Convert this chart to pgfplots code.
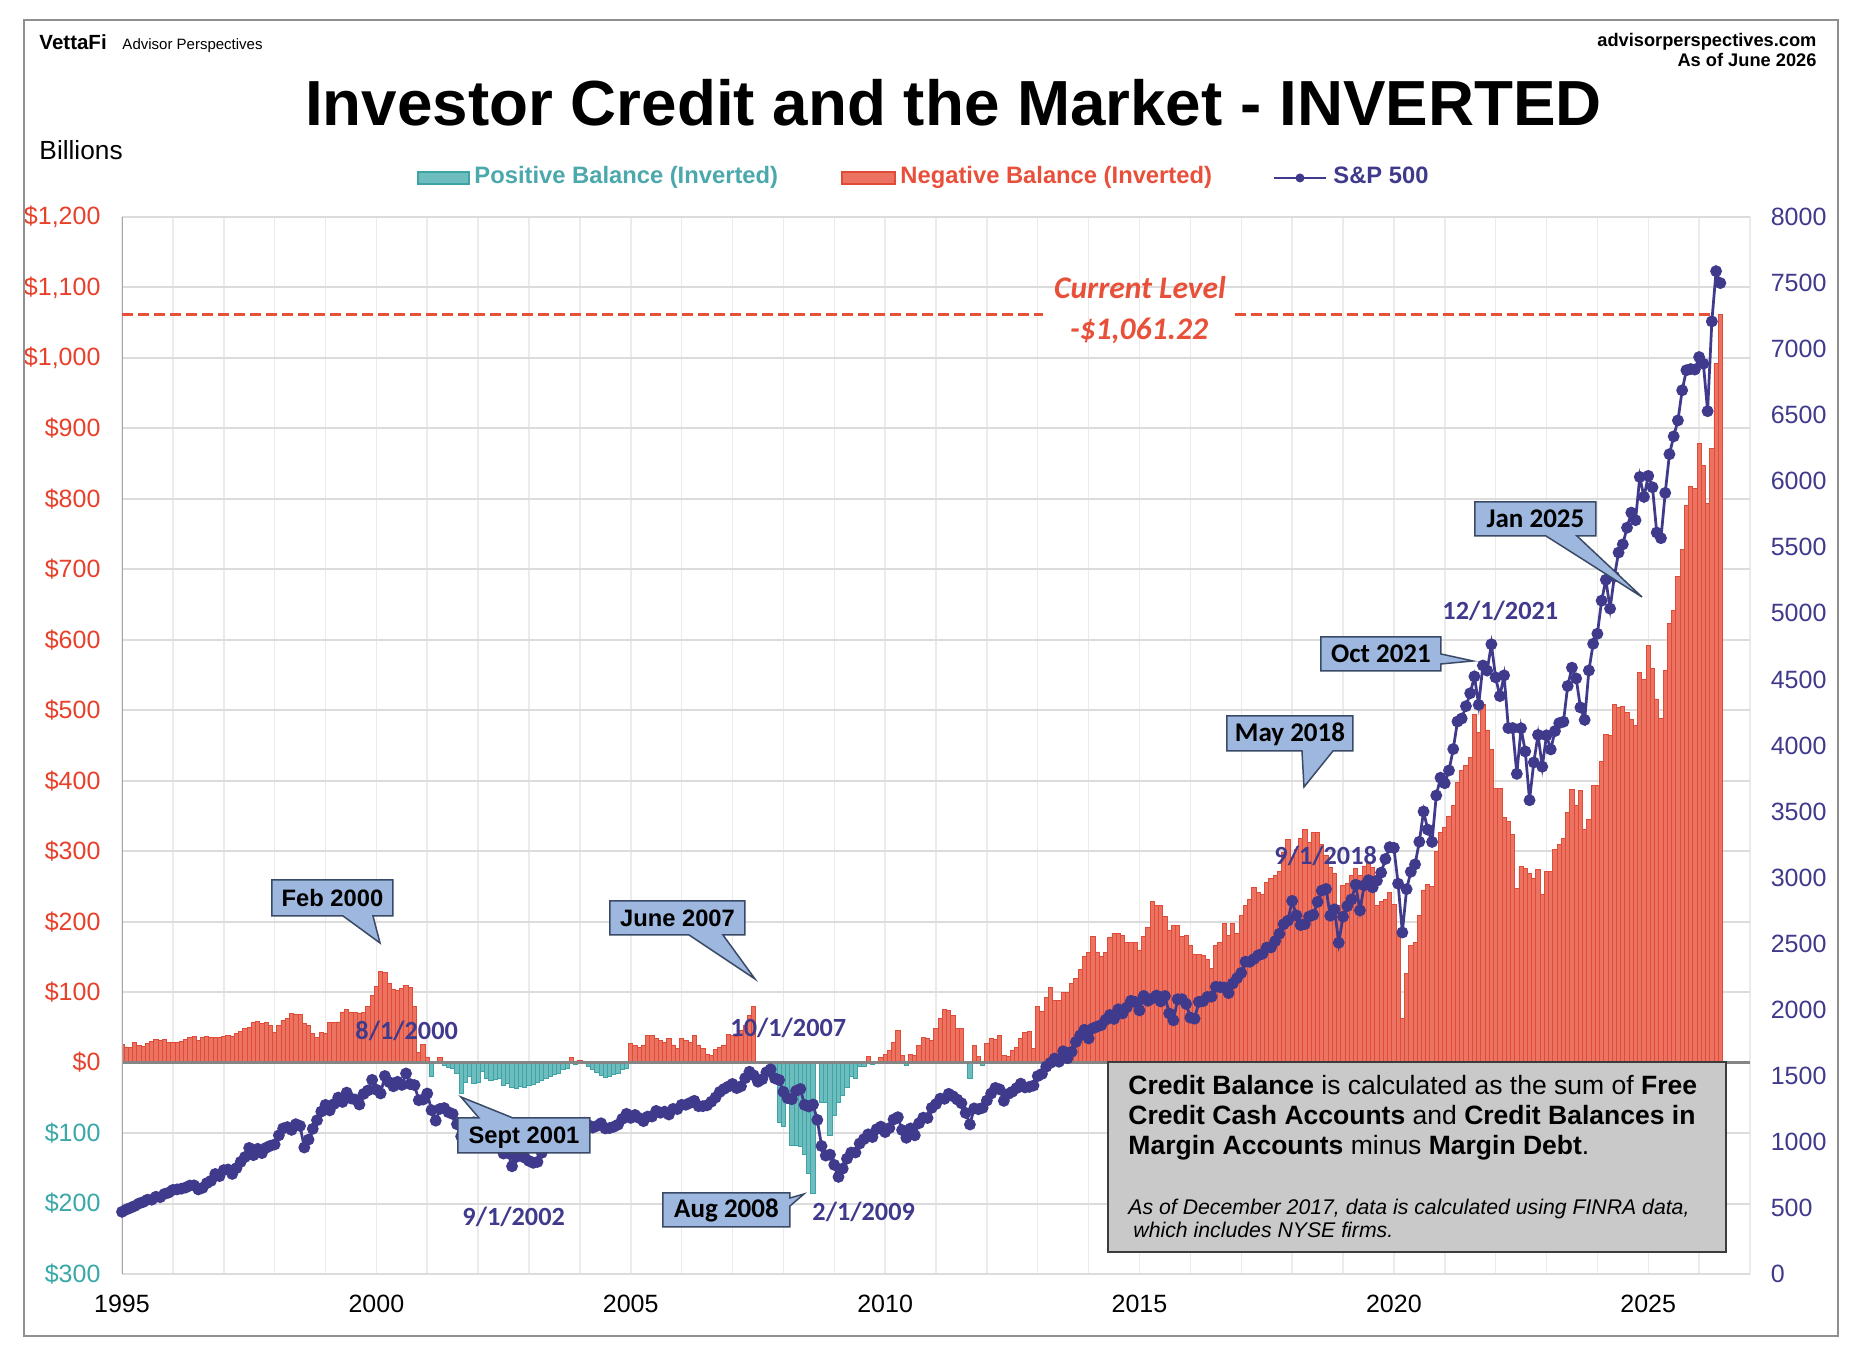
\documentclass[border=0pt]{standalone}
\usepackage{fontspec}
\setmainfont{Liberation Sans}
\newfontfamily\calibri{Carlito}
\usepackage{pgfplots}
\usepackage{pgfplotstable}
\pgfplotsset{compat=1.18}

\definecolor{barred}{HTML}{EC7361}
\definecolor{barredline}{HTML}{DE4C38}
\definecolor{barteal}{HTML}{6DBDBE}
\definecolor{bartealline}{HTML}{3EA3A5}
\definecolor{spx}{HTML}{403A8C}
\definecolor{labred}{HTML}{E8402A}
\definecolor{labteal}{HTML}{3AA7A8}
\definecolor{legteal}{HTML}{4BA8AC}
\definecolor{legred}{HTML}{E8503C}
\definecolor{callout}{HTML}{9DB7DF}
\definecolor{calloutline}{HTML}{3A4A66}
\definecolor{gridc}{HTML}{DCDCDC}
\definecolor{vgridc}{HTML}{EBEBEB}
\definecolor{boxgray}{HTML}{C9C9C9}
\definecolor{boxline}{HTML}{3C3C3C}
\definecolor{curred}{HTML}{E8503A}
\definecolor{framegray}{HTML}{8F8F8F}
\definecolor{zerogray}{HTML}{858585}
\definecolor{leftgray}{HTML}{A6A6A6}

\pgfplotstableread{
yr mo cb spx
1995 1 25.5 470.42
1995 2 22.2 487.39
1995 3 20.8 500.71
1995 4 27.9 514.71
1995 5 24.6 533.40
1995 6 23.2 544.75
1995 7 26.9 562.06
1995 8 30.2 561.88
1995 9 33.1 584.41
1995 10 31.6 581.50
1995 11 33.1 605.37
1995 12 27.9 615.93
1996 1 27.9 636.02
1996 2 27.9 640.43
1996 3 30.2 645.50
1996 4 33.1 654.17
1996 5 35.4 669.12
1996 6 37.3 670.63
1996 7 31.6 639.95
1996 8 35.0 651.99
1996 9 37.3 687.31
1996 10 35.0 705.27
1996 11 35.4 757.02
1996 12 35.4 740.74
1997 1 36.4 786.16
1997 2 38.7 790.82
1997 3 37.8 757.12
1997 4 41.1 801.34
1997 5 44.4 848.28
1997 6 48.2 885.14
1997 7 49.6 954.29
1997 8 56.7 899.47
1997 9 58.6 947.28
1997 10 55.2 914.62
1997 11 56.7 955.40
1997 12 52.9 970.43
1998 1 43.4 980.28
1998 2 52.9 1049.34
1998 3 60.0 1101.75
1998 4 62.3 1111.75
1998 5 69.4 1090.82
1998 6 68.0 1133.84
1998 7 68.0 1120.67
1998 8 55.2 957.28
1998 9 52.9 1017.01
1998 10 41.1 1098.67
1998 11 35.0 1163.63
1998 12 43.4 1229.23
1999 1 41.1 1279.64
1999 2 56.7 1238.33
1999 3 56.7 1286.37
1999 4 57.6 1335.18
1999 5 71.8 1301.84
1999 6 75.5 1372.71
1999 7 70.8 1328.72
1999 8 70.8 1320.41
1999 9 69.4 1282.71
1999 10 70.8 1362.93
1999 11 80.0 1388.91
1999 12 95.0 1469.25
2000 1 108 1394.46
2000 2 129 1366.42
2000 3 128 1498.58
2000 4 112 1452.43
2000 5 104 1420.60
2000 6 102 1454.60
2000 7 105 1430.83
2000 8 109 1517.68
2000 9 106 1436.51
2000 10 80 1429.40
2000 11 14 1314.95
2000 12 25.5 1320.28
2001 1 8 1366.01
2001 2 -19 1239.94
2001 3 0.5 1160.33
2001 4 6.6 1249.46
2001 5 -4.7 1255.82
2001 6 -7 1224.42
2001 7 -9 1211.23
2001 8 -15 1133.58
2001 9 -44 1040.94
2001 10 -28 1059.78
2001 11 -19 1139.45
2001 12 -30 1148.08
2002 1 -28 1130.20
2002 2 -13 1106.73
2002 3 -23 1147.39
2002 4 -26 1076.92
2002 5 -24 1067.14
2002 6 -22 989.82
2002 7 -33 911.62
2002 8 -30 916.07
2002 9 -35 815.28
2002 10 -36 885.76
2002 11 -34 936.31
2002 12 -35 879.82
2003 1 -33 855.70
2003 2 -31 841.15
2003 3 -28 848.18
2003 4 -25 916.92
2003 5 -22 963.59
2003 6 -20 974.50
2003 7 -17 990.31
2003 8 -15 1008.01
2003 9 -10 995.97
2003 10 -8 1050.71
2003 11 7 1058.20
2003 12 -3 1111.92
2004 1 3 1131.13
2004 2 0.5 1144.94
2004 3 -5 1126.21
2004 4 -10 1107.30
2004 5 -14 1120.68
2004 6 -18 1140.84
2004 7 -21 1101.72
2004 8 -20 1104.24
2004 9 -17 1114.58
2004 10 -16 1130.20
2004 11 -10 1173.82
2004 12 -8 1211.92
2005 1 27 1181.27
2005 2 24 1203.60
2005 3 22 1180.59
2005 4 25 1156.85
2005 5 39 1191.50
2005 6 38 1191.33
2005 7 34 1234.18
2005 8 32 1220.33
2005 9 29 1228.81
2005 10 34 1207.01
2005 11 25 1249.48
2005 12 20 1248.29
2006 1 34 1280.08
2006 2 32 1280.66
2006 3 29 1294.87
2006 4 39 1310.61
2006 5 25 1270.09
2006 6 20 1270.20
2006 7 12 1276.66
2006 8 10 1303.82
2006 9 18 1335.85
2006 10 22 1377.94
2006 11 25 1400.63
2006 12 40 1418.30
2007 1 39 1438.24
2007 2 37 1406.82
2007 3 46 1420.86
2007 4 53 1482.37
2007 5 67 1530.62
2007 6 80 1503.35
2007 7 2 1455.27
2007 8 1 1473.99
2007 9 -1 1526.75
2007 10 -3 1549.38
2007 11 -28 1481.14
2007 12 -85 1468.36
2008 1 -91 1378.55
2008 2 -56 1330.63
2008 3 -118 1322.70
2008 4 -118 1385.59
2008 5 -119 1400.38
2008 6 -131 1280.00
2008 7 -157 1267.38
2008 8 -185 1282.83
2008 9 1 1166.36
2008 10 -56 968.75
2008 11 -56 896.24
2008 12 -103 903.25
2009 1 -75 825.88
2009 2 -56 735.09
2009 3 -46 797.87
2009 4 -35 872.81
2009 5 -20 919.14
2009 6 -23 919.32
2009 7 -5 987.48
2009 8 -5 1020.62
2009 9 9 1057.08
2009 10 -3 1036.19
2009 11 1 1095.63
2009 12 7 1115.10
2010 1 12 1073.87
2010 2 17 1104.49
2010 3 29 1169.43
2010 4 46 1186.69
2010 5 10 1089.41
2010 6 -4 1030.71
2010 7 12 1101.60
2010 8 10 1049.33
2010 9 24 1141.20
2010 10 36 1183.26
2010 11 34 1180.55
2010 12 31 1257.64
2011 1 48 1286.12
2011 2 62 1327.22
2011 3 76 1325.83
2011 4 74 1363.61
2011 5 67 1345.20
2011 6 48 1320.64
2011 7 48 1292.28
2011 8 2 1218.89
2011 9 -23 1131.42
2011 10 24 1253.30
2011 11 9 1246.96
2011 12 -4 1257.60
2012 1 27 1312.41
2012 2 34 1365.68
2012 3 33 1408.47
2012 4 39 1397.91
2012 5 10 1310.33
2012 6 9 1362.16
2012 7 17 1379.32
2012 8 22 1406.58
2012 9 34 1440.67
2012 10 43 1412.16
2012 11 44 1416.18
2012 12 20 1426.19
2013 1 79 1498.11
2013 2 72 1514.68
2013 3 93 1569.19
2013 4 106 1597.57
2013 5 88 1630.74
2013 6 88 1606.28
2013 7 100 1685.73
2013 8 100 1632.97
2013 9 112 1681.55
2013 10 119 1756.54
2013 11 132 1805.81
2013 12 150 1848.36
2014 1 156 1782.59
2014 2 179 1859.45
2014 3 157 1872.34
2014 4 150 1883.95
2014 5 156 1923.57
2014 6 177 1960.23
2014 7 183 1930.67
2014 8 183 2003.37
2014 9 181 1972.29
2014 10 171 2018.05
2014 11 170 2067.56
2014 12 170 2058.90
2015 1 159 1994.99
2015 2 179 2104.50
2015 3 192 2067.89
2015 4 228 2085.51
2015 5 223 2107.39
2015 6 223 2063.11
2015 7 208 2103.84
2015 8 187 1972.18
2015 9 195 1920.03
2015 10 194 2079.36
2015 11 179 2080.41
2015 12 180 2043.94
2016 1 166 1940.24
2016 2 154 1932.23
2016 3 153 2059.74
2016 4 152 2065.30
2016 5 147 2096.95
2016 6 133 2098.86
2016 7 166 2173.60
2016 8 171 2170.95
2016 9 198 2168.27
2016 10 181 2126.15
2016 11 198 2198.81
2016 12 183 2238.83
2017 1 209 2278.87
2017 2 223 2363.64
2017 3 232 2362.72
2017 4 248 2384.20
2017 5 242 2411.80
2017 6 239 2423.41
2017 7 256 2470.30
2017 8 261 2471.65
2017 9 265 2519.36
2017 10 271 2575.26
2017 11 298 2647.58
2017 12 316 2673.61
2018 1 291 2823.81
2018 2 303 2713.83
2018 3 318 2640.87
2018 4 331 2648.05
2018 5 313 2705.27
2018 6 327 2718.37
2018 7 327 2816.29
2018 8 310 2901.52
2018 9 294 2913.98
2018 10 277 2711.74
2018 11 268 2760.17
2018 12 223 2506.85
2019 1 251 2704.10
2019 2 254 2784.49
2019 3 265 2834.40
2019 4 275 2945.83
2019 5 265 2752.06
2019 6 279 2941.76
2019 7 284 2980.38
2019 8 277 2926.46
2019 9 223 2976.74
2019 10 228 3037.56
2019 11 232 3140.98
2019 12 242 3230.78
2020 1 224 3225.52
2020 2 185 2954.22
2020 3 63 2584.59
2020 4 127 2912.43
2020 5 166 3044.31
2020 6 171 3100.29
2020 7 209 3271.12
2020 8 245 3500.31
2020 9 253 3363.00
2020 10 250 3269.96
2020 11 299 3621.63
2020 12 326 3756.07
2021 1 333 3714.24
2021 2 350 3811.15
2021 3 365 3972.89
2021 4 397 4181.17
2021 5 414 4204.11
2021 6 422 4297.50
2021 7 433 4395.26
2021 8 494 4522.68
2021 9 469 4307.54
2021 10 508 4605.38
2021 11 472 4567.00
2021 12 445 4766.18
2022 1 389 4515.55
2022 2 389 4373.94
2022 3 348 4530.41
2022 4 342 4131.93
2022 5 324 4132.15
2022 6 247 3785.38
2022 7 278 4130.29
2022 8 276 3955.00
2022 9 269 3585.62
2022 10 262 3871.98
2022 11 274 4080.11
2022 12 238 3839.50
2023 1 271 4076.60
2023 2 271 3970.15
2023 3 302 4109.31
2023 4 310 4169.48
2023 5 318 4179.83
2023 6 355 4450.38
2023 7 387 4588.96
2023 8 365 4507.66
2023 9 386 4288.05
2023 10 331 4193.80
2023 11 345 4567.80
2023 12 393 4769.83
2024 1 393 4845.65
2024 2 427 5096.27
2024 3 466 5254.35
2024 4 464 5035.69
2024 5 508 5277.51
2024 6 504 5460.48
2024 7 505 5522.30
2024 8 497 5648.40
2024 9 487 5762.48
2024 10 479 5705.45
2024 11 554 6032.38
2024 12 544 5881.63
2025 1 592 6040.53
2025 2 559 5954.50
2025 3 516 5611.85
2025 4 488 5569.06
2025 5 557 5911.69
2025 6 623 6204.95
2025 7 641 6339.39
2025 8 690 6460.26
2025 9 728 6688.46
2025 10 790 6840.20
2025 11 818 6849.09
2025 12 815 6845.50
2026 1 879 6940
2026 2 848 6890
2026 3 794 6530
2026 4 872 7210
2026 5 992 7590
2026 6 1061.22 7500
}\datatable

\begin{document}
\begin{tikzpicture}
\path[use as bounding box, fill=white] (0,0) rectangle (744.8pt,540pt);

% ---------- left axis: credit balance bars ----------
\begin{axis}[
  at={(48.8pt,30.4pt)}, anchor=south west,
  scale only axis, width=651.2pt, height=422.8pt,
  xmin=1995, xmax=2027, ymin=-300, ymax=1200,
  axis line style={draw=none},
  xtick={1995,2000,2005,2010,2015,2020,2025},
  xticklabels={1995,2000,2005,2010,2015,2020,2025},
  minor xtick={1995,1996,...,2027},
  ytick={-300,-200,...,1200},
  yticklabels={{\textcolor{labteal}{\$300}},{\textcolor{labteal}{\$200}},{\textcolor{labteal}{\$100}},
    {\textcolor{labred}{\$0}},{\textcolor{labred}{\$100}},{\textcolor{labred}{\$200}},{\textcolor{labred}{\$300}},
    {\textcolor{labred}{\$400}},{\textcolor{labred}{\$500}},{\textcolor{labred}{\$600}},{\textcolor{labred}{\$700}},
    {\textcolor{labred}{\$800}},{\textcolor{labred}{\$900}},{\textcolor{labred}{\$1,000}},{\textcolor{labred}{\$1,100}},
    {\textcolor{labred}{\$1,200}}},
  major tick length=0pt, minor tick length=0pt,
  xmajorgrids=false, xminorgrids=true, ymajorgrids=true,
  major grid style={color=gridc, line width=0.8pt},
  minor grid style={color=vgridc, line width=0.6pt},
  tick label style={font=\fontsize{10}{12}\selectfont},
  xticklabel style={yshift=-4.8pt},
  yticklabel style={xshift=-5.1pt},
]
\addplot[ybar, bar width=0.0833, bar shift=0pt, fill=barred, draw=barredline, line width=0.35pt,
  restrict y to domain=0.0001:5000, forget plot]
  table[x expr=\thisrow{yr}+(\thisrow{mo}-1)/12, y=cb] {\datatable};
\addplot[ybar, bar width=0.0833, bar shift=0pt, fill=barteal, draw=bartealline, line width=0.35pt,
  restrict y to domain=-5000:-0.0001, forget plot]
  table[x expr=\thisrow{yr}+(\thisrow{mo}-1)/12, y=cb] {\datatable};
\draw[zerogray, line width=1pt] (axis cs:1995,0) -- (axis cs:2027,0);
\draw[leftgray, line width=1pt] (axis cs:1995,-300) -- (axis cs:1995,1200);
\draw[curred, line width=1.1pt, dash pattern=on 4.2pt off 2.2pt] (axis cs:1995,1061.22) -- (axis cs:2013.1,1061.22);
\draw[curred, line width=1.1pt, dash pattern=on 4.2pt off 2.2pt] (axis cs:2016.88,1061.22) -- (axis cs:2026.25,1061.22);
\end{axis}

% ---------- right axis: S&P 500 ----------
\begin{axis}[
  at={(48.8pt,30.4pt)}, anchor=south west,
  scale only axis, width=651.2pt, height=422.8pt,
  xmin=1995, xmax=2027, ymin=0, ymax=8000,
  hide x axis,
  axis y line*=right,
  axis line style={draw=none},
  ytick={0,500,...,8000},
  yticklabels={0,500,1000,1500,2000,2500,3000,3500,4000,4500,5000,5500,6000,6500,7000,7500,8000},
  major tick length=0pt,
  yticklabel style={font=\fontsize{10}{12}\selectfont, text=spx, xshift=4.8pt},
  clip=false,
]
\addplot[spx, line width=1.1pt, mark=*, mark size=1.8pt, mark options={solid, fill=spx, draw=spx}]
  table[x expr=\thisrow{yr}+(\thisrow{mo}-1)/12, y=spx] {\datatable};
\end{axis}

% ---------- annotations (pixel coordinates, origin top-left) ----------
\begin{scope}[x=0.4pt, y=-0.4pt, yshift=540pt]
\draw[framegray, line width=0.7pt] (24,20) rectangle (1838,1336);

\node[anchor=base west, inner sep=0, font=\bfseries\fontsize{8.2}{10}\selectfont] at (39,50) {VettaFi};
\node[anchor=base west, inner sep=0, font=\fontsize{6}{7}\selectfont] at (122,50) {Advisor Perspectives};
\node[anchor=base east, inner sep=0, font=\bfseries\fontsize{7.3}{9}\selectfont] at (1817,47) {advisorperspectives.com};
\node[anchor=base east, inner sep=0, font=\bfseries\fontsize{7.3}{9}\selectfont] at (1817,67) {As of June 2026};
\node[anchor=base, inner sep=0, font=\bfseries\fontsize{25.5}{30}\selectfont] at (953.5,126) {Investor Credit and the Market - INVERTED};
\node[anchor=base west, inner sep=0, font=\fontsize{10.5}{12}\selectfont] at (39,160) {Billions};

% legend
\draw[fill=barteal, draw=bartealline, line width=0.5pt] (418,172) rectangle (469,184);
\node[anchor=base west, inner sep=0, text=legteal, font=\bfseries\fontsize{9.5}{11}\selectfont] at (474,184) {Positive Balance (Inverted)};
\draw[fill=barred, draw=barredline, line width=0.5pt] (842,172) rectangle (895,184);
\node[anchor=base west, inner sep=0, text=legred, font=\bfseries\fontsize{9.5}{11}\selectfont] at (900,184) {Negative Balance (Inverted)};
\draw[spx, line width=1.1pt] (1274,178) -- (1326,178);
\fill[spx] (1300,178) circle (1.8pt);
\node[anchor=base west, inner sep=0, text=spx, font=\bfseries\fontsize{9.5}{11}\selectfont] at (1333,184) {S\&P 500};

% current level
\node[anchor=base, inner sep=0, text=curred, font=\calibri\bfseries\itshape\fontsize{12.6}{14}\selectfont] at (1140,299) {Current Level};
\node[anchor=base, inner sep=0, text=curred, font=\calibri\bfseries\itshape\fontsize{12.6}{14}\selectfont] at (1139,340) {-\$1,061.22};

% S&P date labels
\tikzset{spl/.style={anchor=base west, inner sep=0, text=spx, font=\calibri\bfseries\fontsize{10.5}{12}\selectfont}}
\node[spl] at (355,1040) {8/1/2000};
\node[spl] at (462,1226) {9/1/2002};
\node[spl] at (730,1037) {10/1/2007};
\node[spl] at (812,1221) {2/1/2009};
\node[spl] at (1274,865) {9/1/2018};
\node[spl] at (1442,620) {12/1/2021};

% callouts
\tikzset{co/.style={fill=callout, draw=calloutline, line width=0.6pt, line join=miter},
  cta/.style={anchor=base, inner sep=0, font=\bfseries\fontsize{9.5}{11}\selectfont},
  ctc/.style={anchor=base, inner sep=0, font=\calibri\bfseries\fontsize{10.8}{12}\selectfont}}
\draw[co] (272,880) -- (393,880) -- (393,916) -- (373,916) -- (380,943) -- (343,916) -- (272,916) -- cycle;
\node[cta] at (332.5,906.5) {Feb 2000};
\draw[co] (610,901) -- (745,901) -- (745,935) -- (723,935) -- (755,979) -- (689,935) -- (610,935) -- cycle;
\node[cta] at (677.5,926.5) {June 2007};
\draw[co] (458,1118) -- (479,1118) -- (461,1097) -- (513,1118) -- (590,1118) -- (590,1153) -- (458,1153) -- cycle;
\node[cta] at (524,1144) {Sept 2001};
\draw[co] (663,1193) -- (790,1193) -- (790,1198) -- (804,1194) -- (790,1206) -- (790,1227) -- (663,1227) -- cycle;
\node[ctc] at (726.5,1218) {Aug 2008};
\draw[co] (1227,716) -- (1353,716) -- (1353,751) -- (1333,751) -- (1304,787) -- (1302,751) -- (1227,751) -- cycle;
\node[ctc] at (1290,742) {May 2018};
\draw[co] (1321,637) -- (1441,637) -- (1441,654) -- (1473,661) -- (1441,664) -- (1441,671) -- (1321,671) -- cycle;
\node[ctc] at (1381,662.5) {Oct 2021};
\draw[co] (1475,502) -- (1596,502) -- (1596,536) -- (1577,536) -- (1642,597) -- (1546,536) -- (1475,536) -- cycle;
\node[ctc] at (1535.5,527.5) {Jan 2025};

% text box
\draw[fill=boxgray, draw=boxline, line width=0.7pt] (1108,1062) rectangle (1726,1252);
\tikzset{bt/.style={anchor=base west, inner sep=0, font=\fontsize{10.6}{12}\selectfont},
  bi/.style={anchor=base west, inner sep=0, font=\itshape\fontsize{8.5}{10}\selectfont}}
\node[bt] at (1128,1095) {\textbf{Credit Balance} is calculated as the sum of \textbf{Free}};
\node[bt] at (1128,1125) {\textbf{Credit Cash Accounts} and \textbf{Credit Balances in}};
\node[bt] at (1128,1155) {\textbf{Margin Accounts} minus \textbf{Margin Debt}.};
\node[bi] at (1128,1215) {As of December 2017, data is calculated using FINRA data,};
\node[bi] at (1133,1238) {which includes NYSE firms.};
\end{scope}
\end{tikzpicture}
\end{document}
